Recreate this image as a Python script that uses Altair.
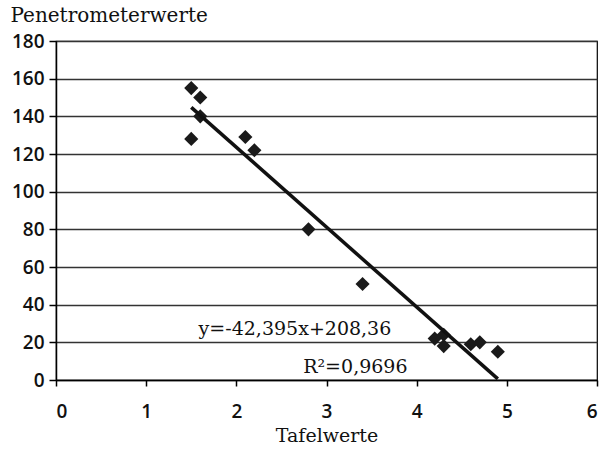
import altair as alt
import pandas as pd

tafel = [1.5, 1.6, 1.6, 1.5, 2.1, 2.2, 2.8, 3.4, 4.2, 4.3, 4.3, 4.6, 4.7, 4.9]
pen = [155, 150, 140, 128, 129, 122, 80, 51, 22, 24, 18, 19, 20, 15]

slope = -42.395
intercept = 208.36
line_x = [1.5, 4.9]
line_y = [slope * v + intercept for v in line_x]

x_ticks = [0, 1, 2, 3, 4, 5, 6]
y_ticks = [0, 20, 40, 60, 80, 100, 120, 140, 160, 180]

labels = ["y=-42,395x+208,36", "R²=0,9696"]
label_x = [2.65, 3.32]
label_y = [24, 3.8]

pts = pd.DataFrame({"x": tafel, "y": pen})
ln = pd.DataFrame({"x": line_x, "y": line_y})
lb = pd.DataFrame({"x": label_x, "y": label_y, "t": labels})

FONT = "DejaVu Serif"
NUMFONT = "Open Sans"

xs = alt.Scale(domain=[0, 6], nice=False, zero=False)
ys = alt.Scale(domain=[0, 180], nice=False)

xax = alt.Axis(values=x_ticks, format="d", labelOverlap=False,
               grid=False, title="Tafelwerte",
               tickSize=6, tickColor="#000", domainColor="#000", domainWidth=1.5,
               tickWidth=1.5, labelPadding=16, labelFontSize=19, labelFontWeight=600,
               titleFontSize=19, titlePadding=5, titleFontWeight="normal",
               labelFont=NUMFONT, titleFont=FONT,
               labelColor="#111", titleColor="#111")
yax = alt.Axis(values=y_ticks, format="d", labelOverlap=False,
               grid=True, gridColor="#333", gridWidth=1.3,
               title="Penetrometerwerte", titleAngle=0, titleAlign="left", titleX=-46,
               titleY=-20, titleBaseline="alphabetic",
               tickSize=7, tickColor="#000", domainColor="#000", domainWidth=1.5,
               tickWidth=1.5, labelPadding=5, labelFontSize=19, labelFontWeight=600,
               titleFontSize=20, titleFontWeight="normal",
               labelFont=NUMFONT, titleFont=FONT,
               labelColor="#111", titleColor="#111")

X = alt.X("x:Q", scale=xs, axis=xax)
Y = alt.Y("y:Q", scale=ys, axis=yax)

points = alt.Chart(pts).mark_point(shape="diamond", filled=True, size=200,
                                   color="#1a1a1a", opacity=1).encode(x=X, y=Y)

trend = alt.Chart(ln).mark_line(color="#111", strokeWidth=3.5).encode(x=X, y=Y)

text = alt.Chart(lb).mark_text(font=FONT, fontSize=19, color="#111",
                               baseline="alphabetic", align="center").encode(
    x=X, y=Y, text="t:N"
)

chart = alt.layer(points, trend, text).properties(
    width=541, height=339,
    autosize=alt.AutoSizeParams(type="none"),
    padding={"left": 56, "top": 41, "right": 6, "bottom": 74},
    background="white",
).configure_view(stroke="#000", strokeWidth=1.2)

chart.save("out.html", embed_options={"renderer": "svg", "actions": False})
